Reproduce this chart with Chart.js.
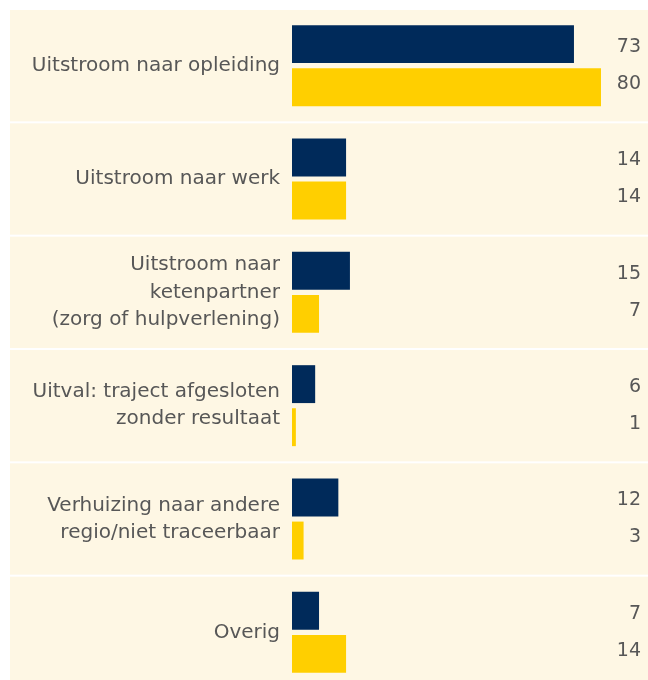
<!DOCTYPE html>
<html>
<head>
<meta charset="utf-8">
<script src="https://cdn.jsdelivr.net/npm/chart.js@4.4.1/dist/chart.umd.min.js"></script>
<style>
  html, body { margin: 0; padding: 0; background: #ffffff; overflow: hidden; }
  #wrap { position: relative; width: 648px; height: 690px; }
</style>
</head>
<body>
<div id="wrap"><canvas id="myChart"></canvas></div>
<script>
// categories (multi-line labels)
const categories = [
    ['Uitstroom naar opleiding'],
    ['Uitstroom naar werk'],
    ['Uitstroom naar', 'ketenpartner', '(zorg of hulpverlening)'],
    ['Uitval: traject afgesloten', 'zonder resultaat'],
    ['Verhuizing naar andere', 'regio/niet traceerbaar'],
    ['Overig']
];
const seriesNavy = [73, 14, 15, 6, 12, 7];
const seriesYellow = [80, 14, 7, 1, 3, 14];

const NAVY = '#002a5a';
const YELLOW = '#ffcf00';
const CREAM = '#fef7e4';
const TEXT = '#575757';
const FONT = '"DejaVu Sans", Verdana, sans-serif';

// cream bands per category with thin white gaps (drawn before the axis labels)
const bandsPlugin = {
    id: 'bands',
    beforeDraw(chart) {
        const ctx = chart.ctx;
        const y = chart.scales.y;
        const pitch = Math.abs(y.getPixelForValue(1) - y.getPixelForValue(0));
        ctx.save();
        ctx.fillStyle = '#ffffff';
        ctx.fillRect(0, 0, chart.width, chart.height);
        ctx.fillStyle = CREAM;
        for (let i = 0; i < categories.length; i++) {
            const c = y.getPixelForValue(i);
            ctx.fillRect(10, c - pitch / 2 + 1, chart.width - 10, pitch - 2);
        }
        ctx.restore();
    }
};

// value numbers on the right
const numbersPlugin = {
    id: 'numbers',
    afterDatasetsDraw(chart) {
        const ctx = chart.ctx;
        const y = chart.scales.y;
        ctx.save();
        ctx.fillStyle = TEXT;
        ctx.font = '19px ' + FONT;
        ctx.textAlign = 'right';
        ctx.textBaseline = 'middle';
        chart.data.datasets.forEach(function (ds, d) {
            ds.data.forEach(function (v, i) {
                const c = y.getPixelForValue(i);
                ctx.fillText(String(v), 641, c + (d === 0 ? -18.5 : 18.5));
            });
        });
        ctx.restore();
    }
};

const ctx = document.getElementById('myChart').getContext('2d');
const chart = new Chart(ctx, {
    type: 'bar',
    data: {
        labels: categories,
        datasets: [
            {
                label: 'navy',
                data: seriesNavy,
                backgroundColor: NAVY,
                categoryPercentage: 0.76,
                barPercentage: 0.88
            },
            {
                label: 'yellow',
                data: seriesYellow,
                backgroundColor: YELLOW,
                categoryPercentage: 0.76,
                barPercentage: 0.88
            }
        ]
    },
    options: {
        indexAxis: 'y',
        responsive: true,
        maintainAspectRatio: false,
        animation: false,
        layout: {
            padding: { top: 9, bottom: 1, left: 0, right: 47 }
        },
        plugins: {
            legend: { display: false },
            tooltip: { enabled: false }
        },
        scales: {
            x: {
                display: false,
                min: 0,
                max: 80
            },
            y: {
                afterFit: function (s) {
                    s.width = 292;
                    s.paddingTop = 0;
                    s.paddingBottom = 0;
                },
                grid: { display: false, drawTicks: false },
                border: { display: false },
                ticks: {
                    color: TEXT,
                    padding: 12,
                    autoSkip: false,
                    font: { family: FONT, size: 20, lineHeight: 1.36 }
                }
            }
        }
    },
    plugins: [bandsPlugin, numbersPlugin]
});
</script>
</body>
</html>
